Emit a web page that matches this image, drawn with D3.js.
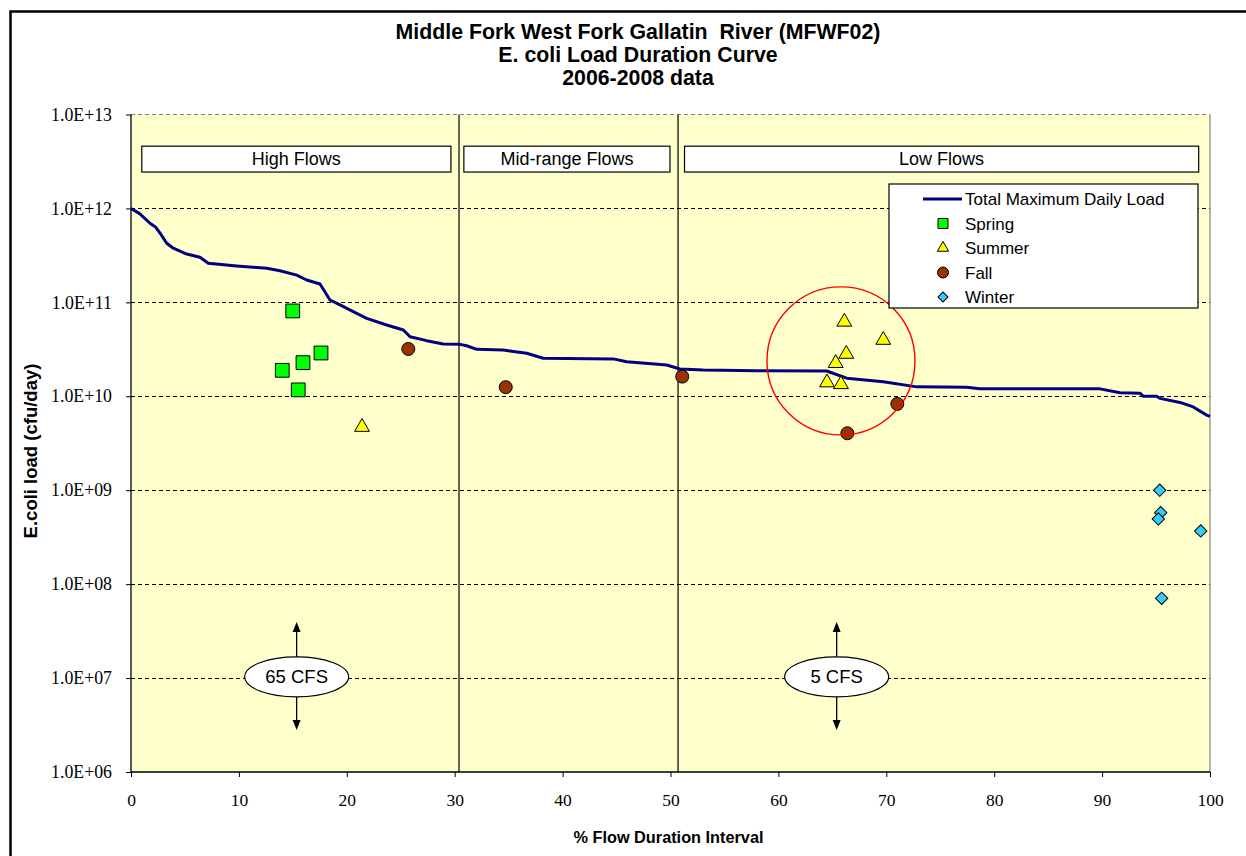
<!DOCTYPE html>
<html>
<head>
<meta charset="utf-8">
<script src="https://cdn.jsdelivr.net/npm/d3@7"></script>
<style>
  body { margin: 0; background: #fff; }
  svg { display: block; }
  text { white-space: pre; }
</style>
</head>
<body>
<svg id="chart" width="1246" height="856"></svg>
<script>
// ---- Chart text ----
const titleLines = [
  "Middle Fork West Fork Gallatin  River (MFWF02)",
  "E. coli Load Duration Curve",
  "2006-2008 data"
];
const xAxisTitle = "% Flow Duration Interval";
const yAxisTitle = "E.coli load (cfu/day)";
const xTicks = [0, 10, 20, 30, 40, 50, 60, 70, 80, 90, 100];
const yTicks = [1e6, 1e7, 1e8, 1e9, 1e10, 1e11, 1e12, 1e13];

// ---- Total Maximum Daily Load curve (% flow duration, cfu/day) ----
const tmdlX = [0, 0.8, 1.76, 2.3, 2.69, 3.31, 3.92, 5.16, 6.39, 7.16, 9.8, 12.58, 13.81, 15.36, 16.28,
  17.52, 18.44, 19.37, 20.6, 21.84, 23.7, 25.24, 25.86, 27.4, 28.94, 30.49, 31.11, 32.04, 34.5, 36.67,
  38.21, 44.7, 45.94, 49.65, 50.88, 53.04, 57.99, 64.48, 66.33, 69.72, 72.82, 77.45, 78.68, 89.81,
  91.66, 93.51, 93.82, 95.06, 95.37, 97.22, 98.45, 99.69, 100];
const tmdlY = [1.0e12, 8.8e11, 6.95e11, 6.3e11, 5.47e11, 4.26e11, 3.77e11, 3.27e11, 3.02e11, 2.61e11,
  2.44e11, 2.31e11, 2.17e11, 1.95e11, 1.73e11, 1.57e11, 1.06e11, 9.4e10, 7.96e10, 6.76e10, 5.74e10,
  5.08e10, 4.31e10, 3.91e10, 3.61e10, 3.57e10, 3.45e10, 3.16e10, 3.11e10, 2.87e10, 2.54e10, 2.5e10,
  2.33e10, 2.15e10, 1.95e10, 1.9e10, 1.87e10, 1.86e10, 1.56e10, 1.43e10, 1.26e10, 1.25e10, 1.2e10,
  1.2e10, 1.09e10, 1.08e10, 1.0e10, 1.0e10, 9.5e9, 8.6e9, 7.7e9, 6.3e9, 6.1e9];

// ---- Seasonal sample loads ----
const springX = [14.99, 17.61, 15.94, 14.02, 15.5];
const springY = [8.1e10, 2.89e10, 2.28e10, 1.89e10, 1.17e10];
const summerX = [21.41, 66.11, 69.72, 66.29, 65.31, 64.5, 65.8];
const summerY = [4.7e9, 6.2e10, 3.97e10, 2.82e10, 2.25e10, 1.4e10, 1.34e10];
const fallX = [25.7, 34.73, 51.09, 71.02, 66.39];
const fallY = [3.19e10, 1.25e10, 1.62e10, 8.3e9, 4.04e9];
const winterX = [95.34, 95.43, 95.21, 99.14, 95.52];
const winterY = [1.0e9, 5.77e8, 4.94e8, 3.68e8, 7.07e7];

// ---- Flow zones ----
const zoneNames = ["High Flows", "Mid-range Flows", "Low Flows"];
const zoneBoxStart = [1.0, 30.85, 51.3];
const zoneBoxEnd = [29.65, 49.95, 98.95];
const zoneDividers = [30.4, 50.7];
const zoneBoxTop = 4.6e12, zoneBoxBottom = 2.44e12;

// ---- Flow reference callouts ----
const flowLabels = ["65 CFS", "5 CFS"];
const flowLabelX = [15.35, 65.4];
const flowLabelY = 1.03e7;
const flowArrowUp = 3.95e7, flowArrowDown = 2.8e6;

// ---- Highlighted group of low-flow exceedances ----
const highlightX = 65.8, highlightY = 2.38e10;

const legendNames = ["Total Maximum Daily Load", "Spring", "Summer", "Fall", "Winter"];

const SANS = "'Liberation Sans', Arial, sans-serif";
const SERIF = "'Liberation Serif', 'Times New Roman', serif";

const svg = d3.select("#chart");
const W = 1246, H = 856;
const plot = { left: 131, right: 1210, top: 114.5, bottom: 772 };

const x = d3.scaleLinear().domain([0, 100]).range([plot.left, plot.right]);
const y = d3.scaleLog().domain([1e6, 1e13]).range([plot.bottom, plot.top]);

svg.append("rect").attr("width", W).attr("height", H).attr("fill", "#fff");
// outer frame
svg.append("rect").attr("x", 10.5).attr("y", 11.5).attr("width", 1260).attr("height", 900)
  .attr("fill", "none").attr("stroke", "#000").attr("stroke-width", 2.5);

// title
svg.append("g").selectAll("text").data(titleLines).join("text")
  .attr("x", 638).attr("y", (d, i) => 38.5 + i * 23.3)
  .attr("text-anchor", "middle").attr("font-family", SANS).attr("font-weight", "bold")
  .attr("font-size", 21.3).attr("fill", "#000").text(d => d);

// plot background
svg.append("rect").attr("x", plot.left).attr("y", plot.top)
  .attr("width", plot.right - plot.left).attr("height", plot.bottom - plot.top)
  .attr("fill", "#FFFFCC");

// gridlines
svg.append("g").selectAll("line").data(yTicks.slice(1)).join("line")
  .attr("x1", plot.left).attr("x2", plot.right)
  .attr("y1", d => y(d)).attr("y2", d => y(d))
  .attr("stroke", d => d === 1e13 ? "#808080" : "#000")
  .attr("stroke-width", 1).attr("stroke-dasharray", "4,3")
  .attr("shape-rendering", "crispEdges");

// right border of plot
svg.append("line").attr("x1", plot.right).attr("x2", plot.right)
  .attr("y1", plot.top).attr("y2", plot.bottom)
  .attr("stroke", "#808080").attr("stroke-width", 1.2);

// zone dividers
svg.append("g").selectAll("line").data(zoneDividers).join("line")
  .attr("x1", d => x(d)).attr("x2", d => x(d))
  .attr("y1", plot.top).attr("y2", plot.bottom)
  .attr("stroke", "#000").attr("stroke-width", 1.2);

// zone label boxes
const zg = svg.append("g");
zoneNames.forEach((name, i) => {
  zg.append("rect")
    .attr("x", x(zoneBoxStart[i])).attr("y", y(zoneBoxTop))
    .attr("width", x(zoneBoxEnd[i]) - x(zoneBoxStart[i]))
    .attr("height", y(zoneBoxBottom) - y(zoneBoxTop))
    .attr("fill", "#fff").attr("stroke", "#000").attr("stroke-width", 1.2);
  zg.append("text")
    .attr("x", (x(zoneBoxStart[i]) + x(zoneBoxEnd[i])) / 2)
    .attr("y", (y(zoneBoxTop) + y(zoneBoxBottom)) / 2 + 6)
    .attr("text-anchor", "middle").attr("font-family", SANS).attr("font-size", 18)
    .attr("fill", "#000").text(name);
});

// y axis
const yAxis = d3.axisLeft(y).tickValues(yTicks).tickSize(5).tickPadding(14)
  .tickFormat(d => "1.0E+" + String(Math.round(Math.log10(d))).padStart(2, "0"));
const yg = svg.append("g").attr("transform", `translate(${plot.left},0)`).call(yAxis);
yg.select(".domain").remove();
yg.selectAll(".tick line").attr("stroke", "#000");
yg.selectAll(".tick text").attr("font-family", SERIF).attr("font-size", 17.8).attr("fill", "#000");

// x axis
const xAxis = d3.axisBottom(x).tickValues(xTicks).tickSize(5).tickPadding(17).tickFormat(d3.format("d"));
const xg = svg.append("g").attr("transform", `translate(0,${plot.bottom})`).call(xAxis);
xg.select(".domain").remove();
xg.selectAll(".tick line").attr("stroke", "#000");
xg.selectAll(".tick text").attr("font-family", SERIF).attr("font-size", 17.5).attr("fill", "#000");

// axis lines
svg.append("line").attr("x1", plot.left).attr("x2", plot.left).attr("y1", plot.top).attr("y2", plot.bottom)
  .attr("stroke", "#000").attr("stroke-width", 1.3);
svg.append("line").attr("x1", plot.left).attr("x2", plot.right).attr("y1", plot.bottom).attr("y2", plot.bottom)
  .attr("stroke", "#000").attr("stroke-width", 1.3);

// axis titles
svg.append("text").attr("x", (plot.left + plot.right) / 2 - 2).attr("y", 843)
  .attr("text-anchor", "middle").attr("font-family", SANS).attr("font-weight", "bold")
  .attr("font-size", 16.3).text(xAxisTitle);
svg.append("text").attr("transform", `translate(37,451) rotate(-90)`)
  .attr("text-anchor", "middle").attr("font-family", SANS).attr("font-weight", "bold")
  .attr("font-size", 18.5).text(yAxisTitle);

// flow callouts with arrows
const fg = svg.append("g");
flowLabels.forEach((lab, i) => {
  const cx = x(flowLabelX[i]), cy = y(flowLabelY);
  const rx = 52, ry = 20;
  const topTip = y(flowArrowUp), botTip = y(flowArrowDown);
  fg.append("line").attr("x1", cx).attr("x2", cx).attr("y1", cy - ry).attr("y2", topTip + 8)
    .attr("stroke", "#000").attr("stroke-width", 1.3);
  fg.append("path").attr("d", `M${cx},${topTip} L${cx - 4},${topTip + 10} L${cx + 4},${topTip + 10} Z`)
    .attr("fill", "#000");
  fg.append("line").attr("x1", cx).attr("x2", cx).attr("y1", cy + ry).attr("y2", botTip - 8)
    .attr("stroke", "#000").attr("stroke-width", 1.3);
  fg.append("path").attr("d", `M${cx},${botTip} L${cx - 4},${botTip - 10} L${cx + 4},${botTip - 10} Z`)
    .attr("fill", "#000");
  fg.append("ellipse").attr("cx", cx).attr("cy", cy).attr("rx", rx).attr("ry", ry)
    .attr("fill", "#fff").attr("stroke", "#000").attr("stroke-width", 1.2);
  fg.append("text").attr("x", cx).attr("y", cy + 6.5).attr("text-anchor", "middle")
    .attr("font-family", SANS).attr("font-size", 18.5).text(lab);
});

// TMDL curve
const tmdl = tmdlX.map((v, i) => [v, tmdlY[i]]);
svg.append("path").datum(tmdl)
  .attr("d", d3.line().x(d => x(d[0])).y(d => y(d[1])))
  .attr("fill", "none").attr("stroke", "#000080").attr("stroke-width", 3)
  .attr("stroke-linejoin", "round");

// marker shapes
const sq = d3.symbol().type(d3.symbolSquare).size(190)();
const tri = d3.symbol().type(d3.symbolTriangle).size(95)();
const dia = d3.symbol().type(d3.symbolSquare).size(76)();

function markers(xs, ys, path, fill, r, rot) {
  const g = svg.append("g");
  xs.forEach((v, i) => {
    if (r) {
      g.append("circle").attr("cx", x(v)).attr("cy", y(ys[i])).attr("r", r)
        .attr("fill", fill).attr("stroke", "#000").attr("stroke-width", 1);
    } else {
      g.append("path").attr("d", path)
        .attr("transform", `translate(${x(v)},${y(ys[i])}) rotate(${rot || 0})`)
        .attr("fill", fill).attr("stroke", "#000").attr("stroke-width", 1);
    }
  });
}
markers(springX, springY, sq, "#00FF00");
markers(summerX, summerY, tri, "#FFFF00");
markers(fallX, fallY, null, "#993300", 6.5);
markers(winterX, winterY, dia, "#33CCFF", null, 45);

// highlight ring
svg.append("circle").attr("cx", x(highlightX)).attr("cy", y(highlightY)).attr("r", 74)
  .attr("fill", "none").attr("stroke", "#FF0000").attr("stroke-width", 1.4);

// legend
const lg = svg.append("g");
lg.append("rect").attr("x", 889).attr("y", 184).attr("width", 309).attr("height", 124)
  .attr("fill", "#fff").attr("stroke", "#000").attr("stroke-width", 1.2);
const ly = i => 199 + i * 24.5;
legendNames.forEach((name, i) => {
  lg.append("text").attr("x", 965).attr("y", ly(i) + 6).attr("font-family", SANS)
    .attr("font-size", 17).attr("fill", "#000").text(name);
});
lg.append("line").attr("x1", 923).attr("x2", 962).attr("y1", ly(0)).attr("y2", ly(0))
  .attr("stroke", "#000080").attr("stroke-width", 3);
lg.append("path").attr("d", d3.symbol().type(d3.symbolSquare).size(100)())
  .attr("transform", `translate(943,${ly(1)})`).attr("fill", "#00FF00").attr("stroke", "#000");
lg.append("path").attr("d", d3.symbol().type(d3.symbolTriangle).size(55)())
  .attr("transform", `translate(943,${ly(2)})`).attr("fill", "#FFFF00").attr("stroke", "#000");
lg.append("circle").attr("cx", 943).attr("cy", ly(3)).attr("r", 5.5)
  .attr("fill", "#993300").attr("stroke", "#000");
lg.append("path").attr("d", d3.symbol().type(d3.symbolSquare).size(50)())
  .attr("transform", `translate(943,${ly(4)}) rotate(45)`).attr("fill", "#33CCFF").attr("stroke", "#000");
</script>
</body>
</html>
